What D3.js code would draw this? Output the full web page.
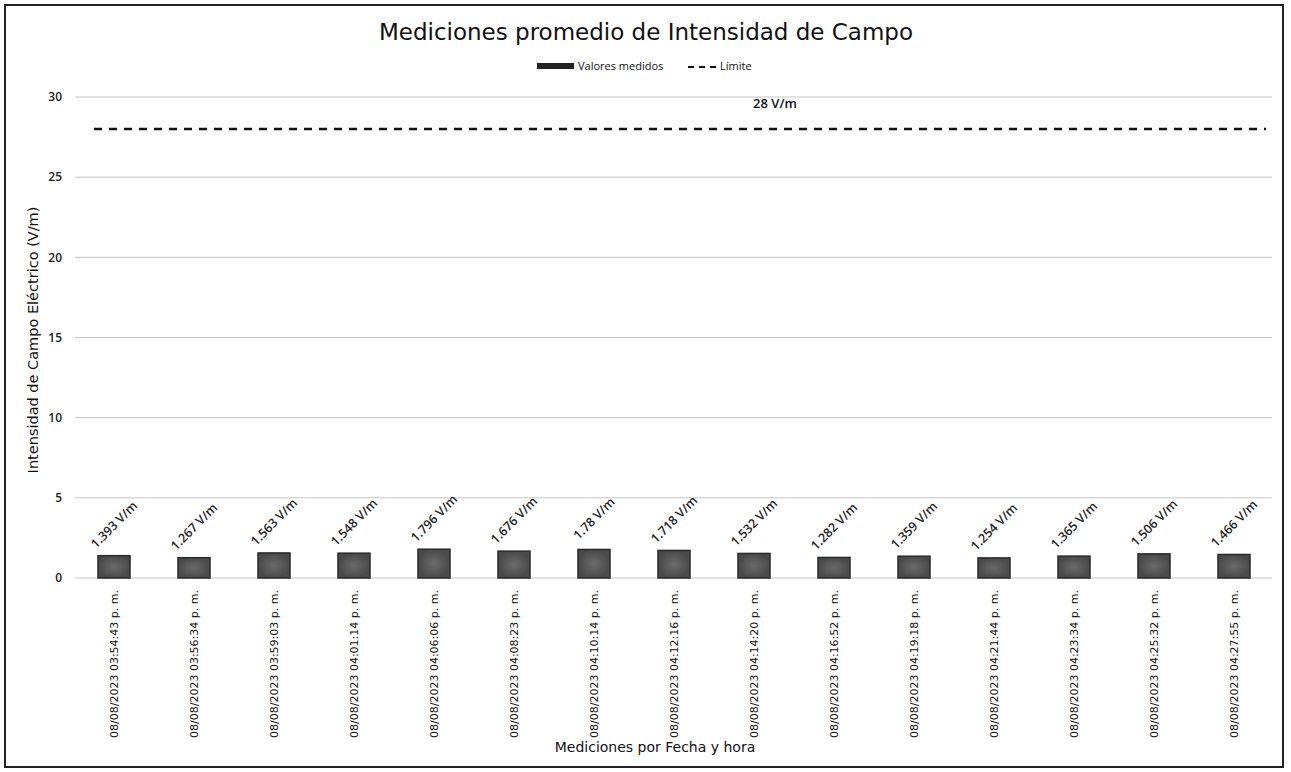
<!DOCTYPE html>
<html>
<head>
<meta charset="utf-8">
<script src="https://cdn.jsdelivr.net/npm/d3@7"></script>
<style>
  html, body { margin: 0; padding: 0; background: #fff; }
  svg { display: block; }
</style>
</head>
<body>
<script>
const categories = [
  "08/08/2023 03:54:43 p. m.", "08/08/2023 03:56:34 p. m.", "08/08/2023 03:59:03 p. m.",
  "08/08/2023 04:01:14 p. m.", "08/08/2023 04:06:06 p. m.", "08/08/2023 04:08:23 p. m.",
  "08/08/2023 04:10:14 p. m.", "08/08/2023 04:12:16 p. m.", "08/08/2023 04:14:20 p. m.",
  "08/08/2023 04:16:52 p. m.", "08/08/2023 04:19:18 p. m.", "08/08/2023 04:21:44 p. m.",
  "08/08/2023 04:23:34 p. m.", "08/08/2023 04:25:32 p. m.", "08/08/2023 04:27:55 p. m."
];
const valores = [1.393, 1.267, 1.563, 1.548, 1.796, 1.676, 1.78, 1.718, 1.532, 1.282, 1.359, 1.254, 1.365, 1.506, 1.466];
const limite = 28;
const yTicks = [0, 5, 10, 15, 20, 25, 30];
const title = "Mediciones promedio de Intensidad de Campo";
const yTitle = "Intensidad de Campo Eléctrico (V/m)";
const xTitle = "Mediciones por Fecha y hora";

(function () {
const W = 1291, H = 772;
const svg = d3.select("body").append("svg").attr("width", W).attr("height", H);

// frame
svg.append("rect").attr("x", 5).attr("y", 5).attr("width", 1278).attr("height", 762)
  .attr("fill", "#fff").attr("stroke", "#222").attr("stroke-width", 2);

const pLeft = 74, pRight = 1274, pTop = 97, pBottom = 578;
const x = d3.scaleBand().domain(categories).range([pLeft, pRight]).paddingInner(0.6).paddingOuter(0.3);
const y = d3.scaleLinear().domain([0, 30]).range([pBottom, pTop]);

// gridlines
svg.append("g").selectAll("line").data(yTicks).join("line")
  .attr("x1", 75).attr("x2", 1272)
  .attr("y1", d => y(d)).attr("y2", d => y(d))
  .attr("stroke", "#c4c4c4").attr("stroke-width", 1);

// y tick labels
svg.append("g").selectAll("text").data(yTicks).join("text")
  .attr("x", 62).attr("y", d => y(d)).attr("dy", "0.35em")
  .attr("text-anchor", "end")
  .attr("font-family", "Open Sans, sans-serif").attr("font-size", 12).attr("font-weight", 600)
  .attr("fill", "#222").text(d => d);

// bars
const defs = svg.append("defs");
const grad = defs.append("radialGradient").attr("id", "bg");
grad.append("stop").attr("offset", "0%").attr("stop-color", "#6a6a6a");
grad.append("stop").attr("offset", "100%").attr("stop-color", "#4a4a4a");

svg.append("g").selectAll("rect").data(valores).join("rect")
  .attr("x", (d, i) => x(categories[i]))
  .attr("y", d => y(d))
  .attr("width", x.bandwidth())
  .attr("height", d => y(0) - y(d))
  .attr("fill", "url(#bg)").attr("stroke", "#2a2a2a").attr("stroke-width", 1.5);

// value labels
svg.append("g").selectAll("text").data(valores).join("text")
  .attr("transform", (d, i) => `translate(${x(categories[i]) + x.bandwidth() / 2},${y(d) - 31}) rotate(-45)`)
  .attr("text-anchor", "middle").attr("dy", "0.35em")
  .attr("font-family", "Open Sans, sans-serif").attr("font-size", 12.5).attr("font-weight", 600)
  .attr("fill", "#222")
  .text(d => d + " V/m");

// limit dashed line
const step = x.step();
svg.append("line")
  .attr("x1", x(categories[0]) + x.bandwidth() / 2 - step / 4)
  .attr("x2", x(categories[categories.length - 1]) + x.bandwidth() / 2 + step * 0.4)
  .attr("y1", y(limite)).attr("y2", y(limite))
  .attr("stroke", "#111").attr("stroke-width", 2.5).attr("stroke-dasharray", "8,7");

svg.append("text").attr("x", 775).attr("y", y(limite) - 26).attr("dy", "0.35em")
  .attr("text-anchor", "middle")
  .attr("font-family", "Open Sans, sans-serif").attr("font-size", 13).attr("font-weight", 600)
  .attr("fill", "#111").text(limite + " V/m");

// x labels
svg.append("g").selectAll("text").data(categories).join("text")
  .attr("transform", d => `translate(${x(d) + x.bandwidth() / 2 + 4},590) rotate(-90)`)
  .attr("text-anchor", "end")
  .attr("font-family", "DejaVu Sans, sans-serif").attr("font-size", 11)
  .attr("fill", "#111").text(d => d);

// title
svg.append("text").attr("x", 646).attr("y", 40).attr("text-anchor", "middle")
  .attr("font-family", "DejaVu Sans, sans-serif").attr("font-size", 23)
  .attr("fill", "#111").text(title);

// legend
const lg = svg.append("g");
lg.append("rect").attr("x", 537).attr("y", 63).attr("width", 37).attr("height", 6).attr("fill", "#222");
lg.append("text").attr("x", 578).attr("y", 66).attr("dy", "0.35em")
  .attr("font-family", "Liberation Sans Narrow, Open Sans, sans-serif").attr("font-size", 11)
  .attr("fill", "#111").text("Valores medidos");
lg.append("line").attr("x1", 688).attr("x2", 719).attr("y1", 67).attr("y2", 67)
  .attr("stroke", "#111").attr("stroke-width", 2).attr("stroke-dasharray", "6,5");
lg.append("text").attr("x", 720).attr("y", 66).attr("dy", "0.35em")
  .attr("font-family", "Liberation Sans Narrow, Open Sans, sans-serif").attr("font-size", 11)
  .attr("fill", "#111").text("Límite");

// axis titles
svg.append("text").attr("transform", "translate(38,340) rotate(-90)")
  .attr("text-anchor", "middle")
  .attr("font-family", "DejaVu Sans, sans-serif").attr("font-size", 14.5)
  .attr("fill", "#111").text(yTitle);

svg.append("text").attr("x", 655).attr("y", 752).attr("text-anchor", "middle")
  .attr("font-family", "DejaVu Sans, sans-serif").attr("font-size", 14)
  .attr("fill", "#111").text(xTitle);
})();
</script>
</body>
</html>
